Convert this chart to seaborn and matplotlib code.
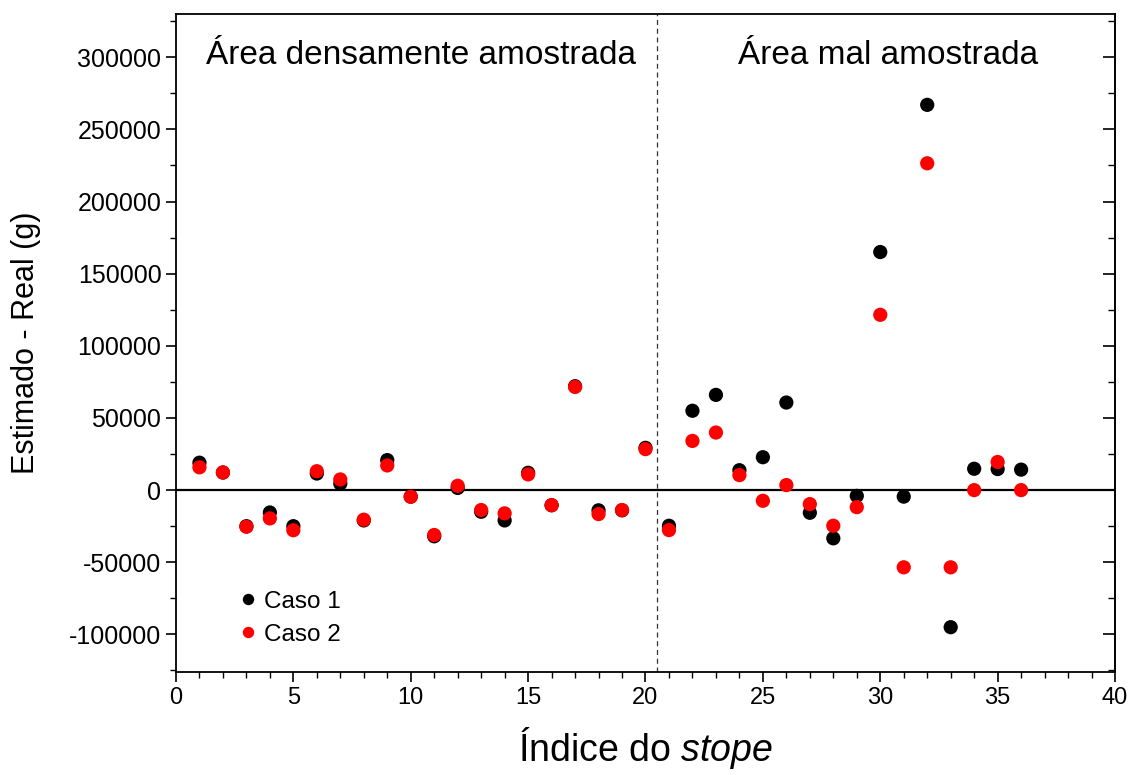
import numpy as np
import pandas as pd
import matplotlib
matplotlib.use("Agg")
import matplotlib.pyplot as plt
import seaborn as sns
from matplotlib.ticker import MultipleLocator

# Stope index and estimation error (estimated - real, in grams) for two cases
stope = list(range(1, 37))
caso1 = [19000, 12200, -25000, -15500, -25000, 11500, 4500, -21000, 20800, -4500,
         -32000, 1500, -15000, -21000, 12000, -10500, 72000, -14000, -14000, 29300,
         -24700, 55000, 66000, 13800, 22800, 60700, -15700, -33400, -4000, 165000,
         -4500, 267000, -95000, 14800, 14600, 14200]
caso2 = [15800, 12200, -25400, -19600, -27800, 13100, 7400, -20500, 17100, -4600,
         -31100, 3000, -13800, -16100, 10900, -10400, 71500, -16600, -13800, 28400,
         -27700, 34100, 39900, 10400, -7400, 3500, -9700, -24700, -11800, 121500,
         -53500, 226500, -53500, 0, 19500, 0]
series_names = ["Caso 1", "Caso 2"]
series_colors = ["#000000", "#ff0000"]
region_labels = ["Área densamente amostrada", "Área mal amostrada"]
boundary = 20.5

df = pd.concat([
    pd.DataFrame({"stope": stope, "erro": caso1, "caso": series_names[0]}),
    pd.DataFrame({"stope": stope, "erro": caso2, "caso": series_names[1]}),
], ignore_index=True)

sns.set_style("ticks")
plt.rcParams["font.family"] = ["Liberation Sans", "DejaVu Sans"]
plt.rcParams["axes.unicode_minus"] = False
plt.rcParams["mathtext.fontset"] = "custom"
plt.rcParams["mathtext.rm"] = "Liberation Sans"
plt.rcParams["mathtext.it"] = "Liberation Sans:italic"
for key in ["text.color", "axes.labelcolor", "xtick.color", "ytick.color"]:
    plt.rcParams[key] = "black"

fig = plt.figure(figsize=(11.28, 7.75), dpi=100)
ax = fig.add_axes([0.156, 0.133, 0.8325, 0.849])

sns.scatterplot(data=df, x="stope", y="erro", hue="caso",
                palette=dict(zip(series_names, series_colors)),
                s=105, linewidth=0, edgecolor="none", ax=ax, zorder=3)

ax.axhline(0, color="black", lw=1.6, zorder=2)
ax.axvline(boundary, color="#333333", lw=0.9, ls=(0, (4, 3)), zorder=1)

ax.set_xlim(0, 40)
ax.set_ylim(-126000, 330000)
ax.xaxis.set_major_locator(MultipleLocator(5))
ax.xaxis.set_minor_locator(MultipleLocator(1))
ax.yaxis.set_major_locator(MultipleLocator(50000))
ax.yaxis.set_minor_locator(MultipleLocator(25000))
ax.tick_params(which="major", direction="out", length=7, width=1.2,
               right=False, top=False)
ax.tick_params(which="minor", direction="out", length=4, width=1.0,
               right=False, top=False)
ax.tick_params(axis="y", labelsize=18)
ax.tick_params(axis="x", labelsize=17)
for sp in ax.spines.values():
    sp.set_linewidth(1.3)
    sp.set_color("black")

# Inward ticks on the right-hand frame
rax = ax.secondary_yaxis("right")
rax.yaxis.set_major_locator(MultipleLocator(50000))
rax.yaxis.set_minor_locator(MultipleLocator(25000))
rax.tick_params(which="major", direction="in", length=9, width=1.2, labelright=False)
rax.tick_params(which="minor", direction="in", length=5, width=1.0)
rax.spines["right"].set_linewidth(1.3)

ax.set_xlabel("Índice do $\\it{stope}$", fontsize=27, labelpad=12)
ax.set_ylabel("Estimado - Real (g)", fontsize=22, labelpad=20)

ax.text(0.261, 0.937, region_labels[0], transform=ax.transAxes,
        ha="center", va="center", fontsize=24)
ax.text(0.758, 0.937, region_labels[1], transform=ax.transAxes,
        ha="center", va="center", fontsize=24)

leg = ax.legend(loc="lower left", bbox_to_anchor=(0.05, 0.025), frameon=False,
                fontsize=17.5, handletextpad=0.0, handlelength=1.3,
                labelspacing=0.45, markerscale=0.8, borderaxespad=0)
for h in leg.legend_handles:
    h.set_markeredgewidth(0)

fig.savefig("out.png", dpi=100)
